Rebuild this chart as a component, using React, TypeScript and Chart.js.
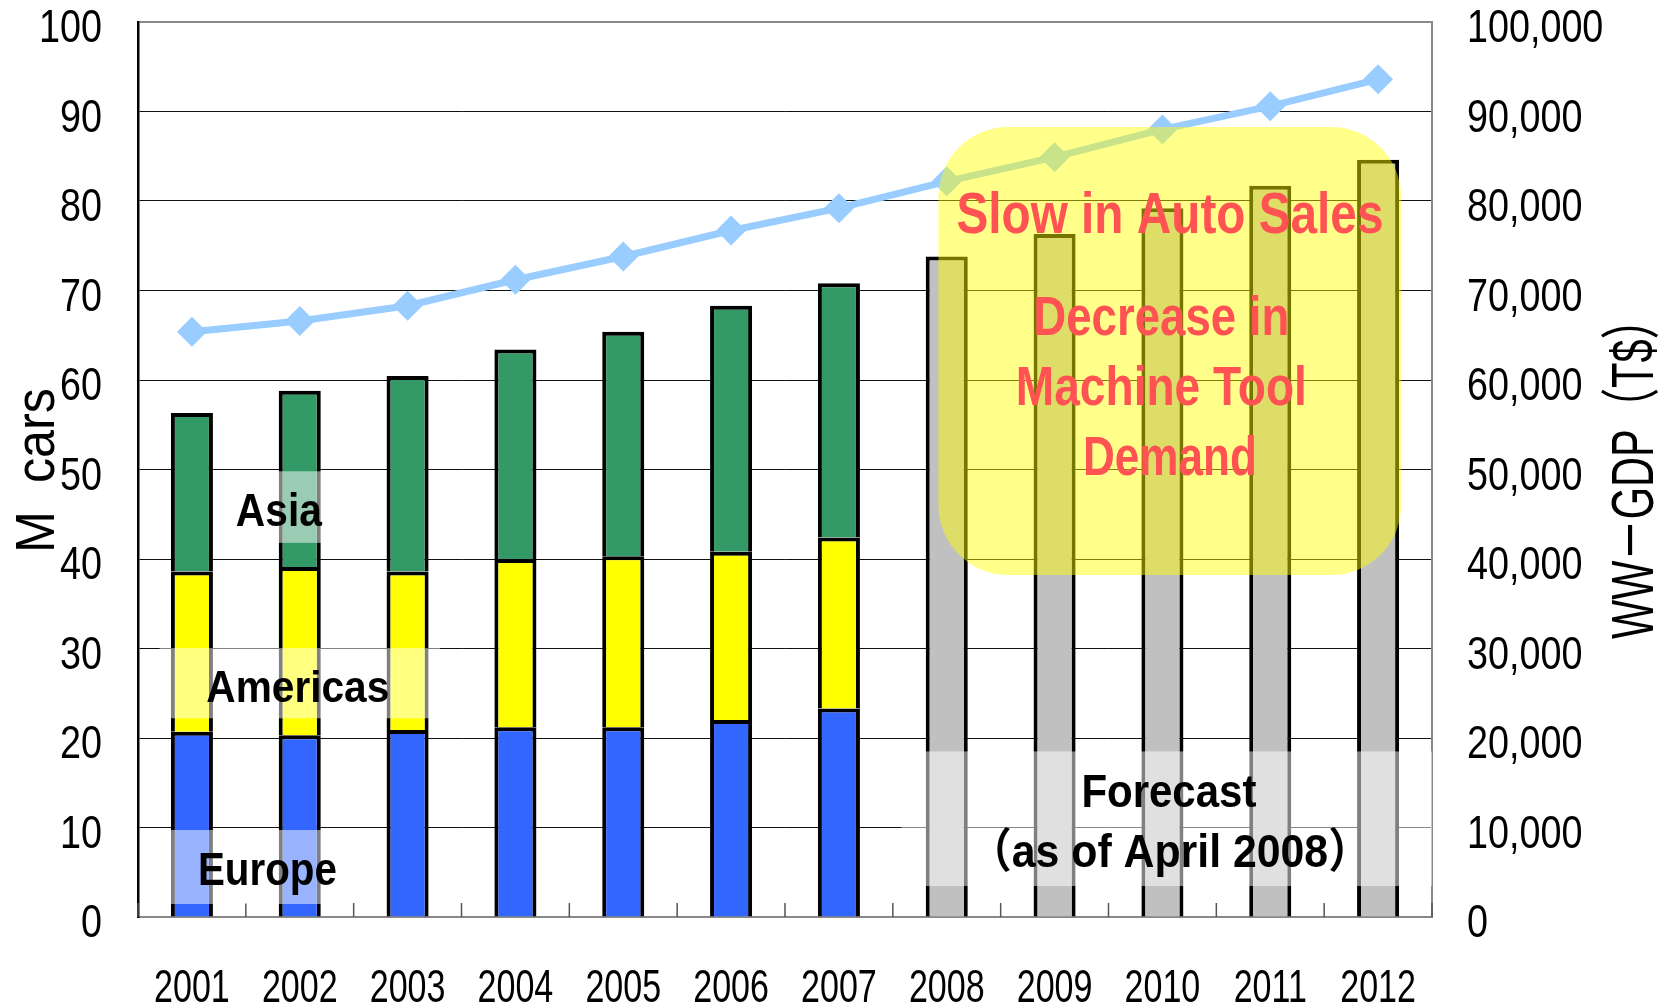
import React, { useEffect, useRef } from 'react';
import { Chart, registerables } from 'chart.js';

Chart.register(...registerables);

const years = ['2001', '2002', '2003', '2004', '2005', '2006', '2007', '2008', '2009', '2010', '2011', '2012'];
const europe = [20.7, 20.3, 20.9, 21.2, 21.2, 22.0, 23.3, null, null, null, null, null];
const americas = [17.9, 18.8, 17.7, 18.8, 19.1, 18.8, 19.1, null, null, null, null, null];
const asia = [17.7, 19.7, 21.85, 23.4, 25.1, 27.5, 28.4, null, null, null, null, null];
const forecastTotal = [null, null, null, null, null, null, null, 73.8, 76.3, 79.2, 81.7, 84.6];
const gdp = [65400, 66600, 68300, 71200, 73800, 76700, 79200, 82200, 84900, 88000, 90600, 93600];
const leftTicks = [0, 10, 20, 30, 40, 50, 60, 70, 80, 90, 100];
const rightTicks = [0, 10000, 20000, 30000, 40000, 50000, 60000, 70000, 80000, 90000, 100000];

const regionLabels = ['Asia', 'Americas', 'Europe'];
const forecastLines = ['Forecast', '（as of April 2008）'];
const warningLines = ['Slow in Auto Sales', 'Decrease in', 'Machine Tool', 'Demand'];
const leftTitle = 'M  cars';
const rightTitle = 'WW－GDP（T$）';

const TEXT_FONT = "'Liberation Sans', 'Noto Sans CJK JP', sans-serif";

const fmt = (v: number) => Number(v).toLocaleString('en-US');

// condensed text drawing (the original uses a narrow Japanese UI font)
function narrowText(ctx: any, s: string, x: number, y: number, font: string, sx: number, align: string) {
  ctx.save();
  ctx.font = font;
  ctx.textAlign = align;
  ctx.textBaseline = 'alphabetic';
  ctx.translate(x, y);
  ctx.scale(sx, 1);
  ctx.fillText(s, 0, 0);
  ctx.restore();
}

// text centred at (cx, baseline) and stretched/condensed to a given width
function fitText(ctx: any, s: string, cx: number, by: number, font: string, width: number, color: string) {
  ctx.save();
  ctx.font = font;
  ctx.fillStyle = color;
  ctx.textAlign = 'center';
  ctx.textBaseline = 'alphabetic';
  const w = ctx.measureText(s).width;
  ctx.translate(cx, by);
  ctx.scale(width / w, 1);
  ctx.fillText(s, 0, 0);
  ctx.restore();
}

const annotPlugin = {
  id: 'annot',
  afterDraw(chart: any) {
    const { ctx, chartArea } = chart;
    const x = chart.scales.x;
    const y = chart.scales.y;
    const y1 = chart.scales.y1;
    const x0 = x.getPixelForValue(0);
    const cw = x.getPixelForValue(1) - x0;
    const px = (i: number) => x0 + i * cw;
    const py = (v: number) => y.getPixelForValue(v);

    ctx.save();
    ctx.fillStyle = '#000';
    // tick labels, positioned by the library's scales
    const tickFont = `normal 46px ${TEXT_FONT}`;
    y.ticks.forEach((t: any) => {
      narrowText(ctx, String(t.value), chartArea.left - 36, y.getPixelForValue(t.value) + 20, tickFont, 0.82, 'right');
    });
    y1.ticks.forEach((t: any) => {
      narrowText(ctx, fmt(t.value), chartArea.right + 35, y1.getPixelForValue(t.value) + 20, tickFont, 0.82, 'left');
    });
    chart.data.labels.forEach((lab: string, i: number) => {
      narrowText(ctx, lab, x.getPixelForValue(i), chartArea.bottom + 85, tickFont, 0.74, 'center');
    });

    // small inner tick marks on the category axis
    ctx.strokeStyle = '#555';
    ctx.lineWidth = 1.5;
    for (let k = 0; k <= years.length; k++) {
      const xx = px(k - 0.5);
      ctx.beginPath();
      ctx.moveTo(xx, chartArea.bottom);
      ctx.lineTo(xx, chartArea.bottom - 14);
      ctx.stroke();
    }

    // translucent text-box backgrounds
    ctx.fillStyle = 'rgba(255,255,255,0.5)';
    const rect = (i0: number, i1: number, v0: number, v1: number) => {
      ctx.fillRect(px(i0), py(v1), px(i1) - px(i0), py(v0) - py(v1));
    };
    rect(0.33, 1.45, 41.8, 49.8); // Asia
    rect(-0.3, 2.3, 22.2, 30.05); // Americas
    rect(-0.3, 1.4, 1.45, 9.72); // Europe
    ctx.fillRect(px(6.58), py(18.5), chartArea.right - px(6.58), py(3.46) - py(18.5)); // Forecast

    const text = (s: string, i: number, v: number, size: number, color: string, width: number) => {
      fitText(ctx, s, px(i), py(v), `bold ${size}px ${TEXT_FONT}`, width, color);
    };
    text(regionLabels[0], 0.806, 43.7, 47, '#000', 86);
    text(regionLabels[1], 0.982, 24.0, 45, '#000', 183);
    text(regionLabels[2], 0.70, 3.6, 46, '#000', 139);
    text(forecastLines[0], 9.06, 12.3, 47, '#000', 175);
    text(forecastLines[1], 9.07, 5.6, 47, '#000', 402);

    // yellow rounded highlight
    const bx0 = px(6.923), bx1 = px(11.214), by0 = py(88.27), by1 = py(38.2);
    ctx.fillStyle = 'rgba(255,255,0,0.46)';
    ctx.beginPath();
    (ctx as any).roundRect(bx0, by0, bx1 - bx0, by1 - by0, 70);
    ctx.fill();

    const red = '#FF5252';
    text(warningLines[0], 9.07, 76.4, 57, red, 427);
    text(warningLines[1], 8.99, 65.0, 56, red, 256);
    text(warningLines[2], 8.99, 57.2, 56, red, 291);
    text(warningLines[3], 9.07, 49.4, 56, red, 174);

    // axis titles (both read bottom-to-top)
    const midY = (chartArea.top + chartArea.bottom) / 2;
    ctx.save();
    ctx.translate(chartArea.left - 84, midY + 1);
    ctx.rotate(-Math.PI / 2);
    fitText(ctx, leftTitle, 0, 0, `normal 56px ${TEXT_FONT}`, 165, '#000');
    ctx.restore();
    ctx.save();
    ctx.translate(chartArea.right + 221, midY - 1);
    ctx.rotate(-Math.PI / 2);
    fitText(ctx, rightTitle, 0, 0, `normal 60px ${TEXT_FONT}`, 341, '#000');
    ctx.restore();

    ctx.restore();
  },
};

export default function App() {
  const ref = useRef<HTMLCanvasElement | null>(null);
  useEffect(() => {
    if (!ref.current) return;
    const barCommon = {
      borderColor: '#000',
      borderWidth: 4,
      stack: 's',
      yAxisID: 'y',
      order: 2,
      barPercentage: 0.39,
      categoryPercentage: 1,
    };
    const chart = new Chart(ref.current, {
      type: 'bar',
      data: {
        labels: years,
        datasets: [
          { type: 'line', label: 'WW-GDP', data: gdp, yAxisID: 'y1', order: 0, borderColor: '#99CCFF', borderWidth: 7, pointStyle: 'rectRot', pointRadius: 15, pointBackgroundColor: '#99CCFF', pointBorderWidth: 0, tension: 0 } as any,
          { ...barCommon, label: 'Europe', data: europe, backgroundColor: '#3366FF' },
          { ...barCommon, label: 'Americas', data: americas, backgroundColor: '#FFFF00' },
          { ...barCommon, label: 'Asia', data: asia, backgroundColor: '#339966' },
          { ...barCommon, label: 'Forecast', data: forecastTotal, backgroundColor: '#C0C0C0' },
        ],
      },
      options: {
        responsive: false,
        animation: false,
        devicePixelRatio: 1,
        layout: { padding: { top: 22, left: 0, right: 0, bottom: 0 } },
        plugins: { legend: { display: false }, tooltip: { enabled: false }, title: { display: false } },
        scales: {
          x: {
            stacked: true,
            grid: { display: false, drawTicks: false },
            border: { color: '#888', width: 2 },
            ticks: { display: false },
            afterFit: (s: any) => { s.height = 88; s.paddingLeft = 0; s.paddingRight = 0; },
          },
          y: {
            stacked: true,
            position: 'left',
            min: 0,
            max: 100,
            afterBuildTicks: (s: any) => { s.ticks = leftTicks.map((v) => ({ value: v })); },
            grid: { color: (c: any) => (c.tick && c.tick.value === 100 ? '#888' : '#111'), lineWidth: (c: any) => (c.tick && c.tick.value === 100 ? 2 : 1), drawTicks: false },
            border: { color: '#000', width: 2.5 },
            ticks: { display: false },
            afterFit: (s: any) => { s.width = 138; s.paddingTop = 0; s.paddingBottom = 0; },
          },
          y1: {
            position: 'right',
            min: 0,
            max: 100000,
            afterBuildTicks: (s: any) => { s.ticks = rightTicks.map((v) => ({ value: v })); },
            grid: { drawOnChartArea: false, drawTicks: false },
            border: { color: '#888', width: 2 },
            ticks: { display: false, callback: (v: any) => fmt(v) },
            afterFit: (s: any) => { s.width = 236; s.paddingTop = 0; s.paddingBottom = 0; },
          },
        },
      } as any,
      plugins: [annotPlugin],
    });
    return () => chart.destroy();
  }, []);
  return (
    <div style={{ position: 'fixed', left: 0, top: 0, width: 1668, height: 1005, background: '#fff' }}>
      <canvas ref={ref} width={1668} height={1005} style={{ display: 'block' }} />
    </div>
  );
}
